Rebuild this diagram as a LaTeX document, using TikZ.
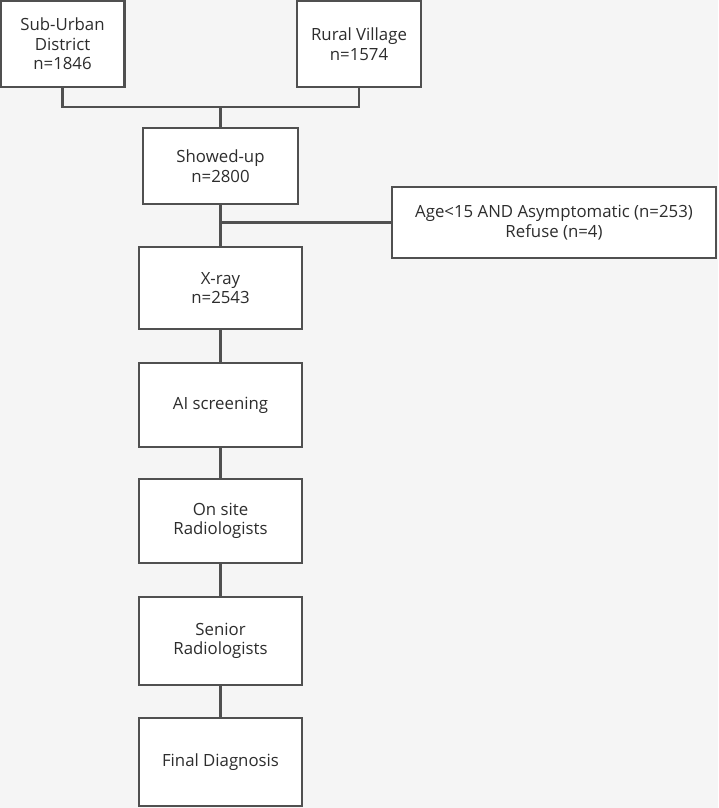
\documentclass[tikz,border=0pt]{standalone}
\usepackage{fontspec}
\setmainfont{Open Sans}
\usepackage{tikz}
\usetikzlibrary{positioning}

\definecolor{pagebg}{RGB}{245,245,245}
\definecolor{boxline}{RGB}{80,80,80}
\definecolor{boxtext}{RGB}{45,45,45}

\begin{document}
\begin{tikzpicture}[x=1pt,y=-1pt,font=\fontsize{16.8}{19.5}\selectfont]
\tikzstyle{block} = [rectangle, draw=boxline, line width=2.2pt, fill=white,
text=boxtext, align=center, inner sep=2pt]
\tikzstyle{line} = [draw=boxline, line width=2.2pt]

\fill[pagebg] (0,0) rectangle (718,808);
\useasboundingbox (0,0) rectangle (718,808);

% top row
\node [block, minimum width=124pt, minimum height=86pt] (suburban) at (62.5,44) {Sub-Urban\\District\\n=1846};
\node [block, minimum width=124pt, minimum height=86pt] (rural) at (359,44) {Rural Village\\n=1574};
% main column
\node [block, minimum width=155pt, minimum height=76pt] (showed) at (220.5,166) {Showed-up\\n=2800};
\node [block, minimum width=324pt, minimum height=71pt] (excluded) at (554,222.5) {Age<15 AND Asymptomatic (n=253)\\Refuse (n=4)};
\node [block, minimum width=163pt, minimum height=82pt] (xray) at (220.5,288) {X-ray\\n=2543};
\node [block, minimum width=163pt, minimum height=84pt] (ai) at (220.5,405) {AI screening};
\node [block, minimum width=163pt, minimum height=84pt] (onsite) at (220.5,521) {On site\\Radiologists};
\node [block, minimum width=163pt, minimum height=88pt] (senior) at (220.5,641) {Senior\\Radiologists};
\node [block, minimum width=163pt, minimum height=88pt] (final) at (220.5,762) {Final Diagnosis};

\coordinate (merge) at (220.5,107);
\coordinate (split) at (excluded.west -| showed.south);

\path [line] (suburban.south) |- (merge) -| (rural.south);
\path [line] (merge) -- (showed.north);
\path [line] (showed.south) -- (xray.north);
\path [line] (split) -- (excluded.west);
\path [line] (xray) -- (ai);
\path [line] (ai) -- (onsite);
\path [line] (onsite) -- (senior);
\path [line] (senior) -- (final);

\end{tikzpicture}
\end{document}
